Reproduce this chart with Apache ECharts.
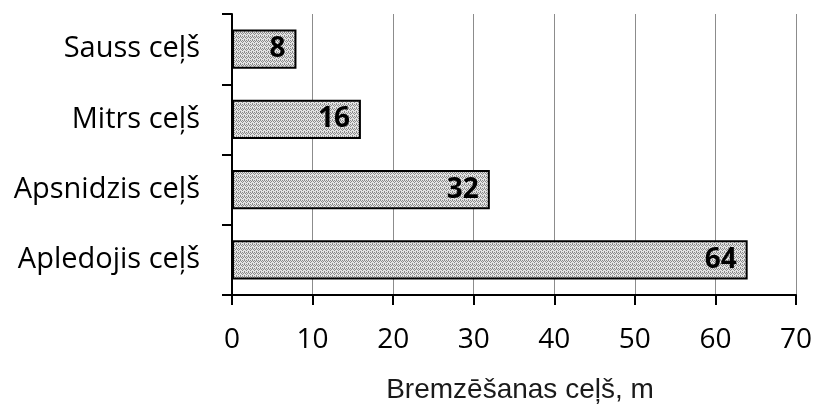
<!DOCTYPE html>
<html><head><meta charset="utf-8">
<script src="https://cdn.jsdelivr.net/npm/echarts@6/dist/echarts.min.js"></script>
<style>html,body{margin:0;padding:0;background:#fff}#c{width:816px;height:409px}</style>
</head><body><div id="c"></div>
<script>
const categories = ['Apledojis ceļš', 'Apsnidzis ceļš', 'Mitrs ceļš', 'Sauss ceļš'];
const values = [64, 32, 16, 8];
const xTicks = [0, 10, 20, 30, 40, 50, 60, 70];
const xTitle = 'Bremzēšanas ceļš, m';

function makePattern() {
  const c = document.createElement('canvas');
  c.width = 4; c.height = 4;
  const g = c.getContext('2d');
  g.fillStyle = '#e4e4e4';
  g.fillRect(0, 0, 4, 4);
  g.fillStyle = '#8a8a8a';
  [[0,0],[1,1],[2,2],[3,1],[0,3],[2,0]].forEach(function (p) { g.fillRect(p[0], p[1], 1, 1); });
  return c;
}

const chart = echarts.init(document.getElementById('c'));
chart.setOption({
  animation: false,
  grid: { left: 232, right: 20, top: 14, bottom: 109, containLabel: false },
  xAxis: {
    type: 'value', min: xTicks[0], max: xTicks[xTicks.length - 1], interval: 10,
    name: xTitle, nameLocation: 'middle', nameGap: 81,
    nameTextStyle: { fontFamily: 'Liberation Sans', fontSize: 28, color: '#1a1a1a', padding: [0, 0, 0, 12] },
    axisLine: { show: true, lineStyle: { color: '#000', width: 2 } },
    axisTick: { show: true, length: 10, inside: false, lineStyle: { color: '#000', width: 2 } },
    axisLabel: { fontFamily: 'Open Sans', fontSize: 28, color: '#000', margin: 31 },
    splitLine: { show: true, lineStyle: { color: '#8c8c8c', width: 1 } }
  },
  yAxis: {
    type: 'category', data: categories,
    axisLine: { show: true, lineStyle: { color: '#000', width: 2 } },
    axisTick: { show: true, length: 10, alignWithLabel: false, lineStyle: { color: '#000', width: 2 } },
    axisLabel: { fontFamily: 'Open Sans', fontSize: 29, color: '#000', margin: 32 },
    splitLine: { show: false }
  },
  series: [{
    type: 'bar', data: values, barWidth: '56%',
    itemStyle: { color: { image: makePattern(), repeat: 'repeat' }, borderColor: '#000', borderWidth: 2 },
    label: { show: true, position: 'insideRight', distance: 11, fontFamily: 'Open Sans', fontWeight: 'bold', fontSize: 28, color: '#000' }
  }]
});
</script></body></html>
